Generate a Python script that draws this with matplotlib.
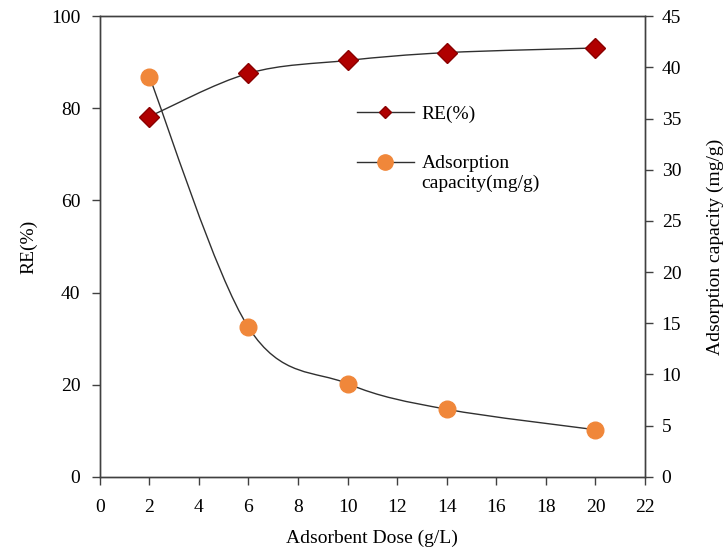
import numpy as np
import matplotlib
matplotlib.use("Agg")
import matplotlib.pyplot as plt
from matplotlib.path import Path
from matplotlib.patches import PathPatch
from matplotlib.lines import Line2D
from matplotlib.legend_handler import HandlerLine2D

# values
dose = [2, 6, 10, 14, 20]
re_pct = [78.2, 87.6, 90.4, 92.1, 93.1]
capacity = [39.1, 14.6, 9.1, 6.6, 4.6]

plt.rcParams['font.family'] = ['Liberation Serif', 'DejaVu Serif']
plt.rcParams['font.size'] = 14


def smooth_path(x, y):
    # Excel-style smoothed line: cubic Bezier segments (Catmull-Rom tangents)
    pts = np.column_stack([x, y]).astype(float)
    n = len(pts)
    verts = [pts[0]]
    codes = [Path.MOVETO]
    for i in range(n - 1):
        p0 = pts[i - 1] if i > 0 else pts[i]
        p1 = pts[i]
        p2 = pts[i + 1]
        p3 = pts[i + 2] if i + 2 < n else pts[i + 1]
        c1 = p1 + (p2 - p0) / 6.0
        c2 = p2 - (p3 - p1) / 6.0
        verts += [c1, c2, p2]
        codes += [Path.CURVE4] * 3
    return Path(verts, codes)


class TopLineHandler(HandlerLine2D):
    # put the legend handle level with the first line of a two-line label
    def create_artists(self, legend, orig_handle, xdescent, ydescent,
                       width, height, fontsize, trans):
        artists = super().create_artists(legend, orig_handle, xdescent, ydescent,
                                         width, height, fontsize, trans)
        for a in artists:
            a.set_ydata(np.asarray(a.get_ydata()) + 0.58 * fontsize)
        return artists


fig = plt.figure(figsize=(7.28, 5.59), dpi=100)
ax = fig.add_axes([0.137, 0.147, 0.749, 0.824])
ax2 = ax.twinx()

line_col = '#303030'
ax.add_patch(PathPatch(smooth_path(dose, re_pct), fill=False, edgecolor=line_col, lw=1.0, zorder=2))
ax2.add_patch(PathPatch(smooth_path(dose, capacity), fill=False, edgecolor=line_col, lw=1.0, zorder=2))

ax.plot(dose, re_pct, linestyle='none', marker='D', markersize=10,
        markerfacecolor='#B00000', markeredgecolor='#8A0000', zorder=3)
ax2.plot(dose, capacity, linestyle='none', marker='o', markersize=12,
         markerfacecolor='#F0873A', markeredgecolor='#F0873A', zorder=3)

ax.set_xlim(0, 22)
ax.set_ylim(0, 100)
ax2.set_ylim(0, 45)
ax.set_xticks(np.arange(0, 23, 2))
ax.set_yticks(np.arange(0, 101, 20))
ax2.set_yticks(np.arange(0, 46, 5))

for a in (ax, ax2):
    for s in a.spines.values():
        s.set_color('#404040')
        s.set_linewidth(1.0)
    a.tick_params(direction='out', length=6, width=1.0, color='#404040', labelsize=14)
ax.tick_params(axis='x', pad=10)
ax.tick_params(axis='y', pad=8)
ax2.tick_params(axis='y', pad=6)

ax.set_xlabel('Adsorbent Dose (g/L)', fontsize=14, labelpad=10)
ax.set_ylabel('RE(%)', fontsize=14, labelpad=10)
ax2.set_ylabel('Adsorption capacity (mg/g)', fontsize=14, labelpad=18)

handles = [
    Line2D([], [], color=line_col, lw=1.0, marker='D', markersize=6,
           markerfacecolor='#B00000', markeredgecolor='#8A0000'),
    Line2D([], [], color=line_col, lw=1.0, marker='o', markersize=11,
           markerfacecolor='#F0873A', markeredgecolor='#F0873A'),
]
ax2.legend(handles, ['RE(%)', 'Adsorption\ncapacity(mg/g)'], loc='upper left',
           bbox_to_anchor=(0.44, 0.845), frameon=False, fontsize=14,
           handlelength=2.9, handletextpad=0.4, labelspacing=1.65,
           handler_map={handles[1]: TopLineHandler()})

fig.savefig('out.png', dpi=100)
